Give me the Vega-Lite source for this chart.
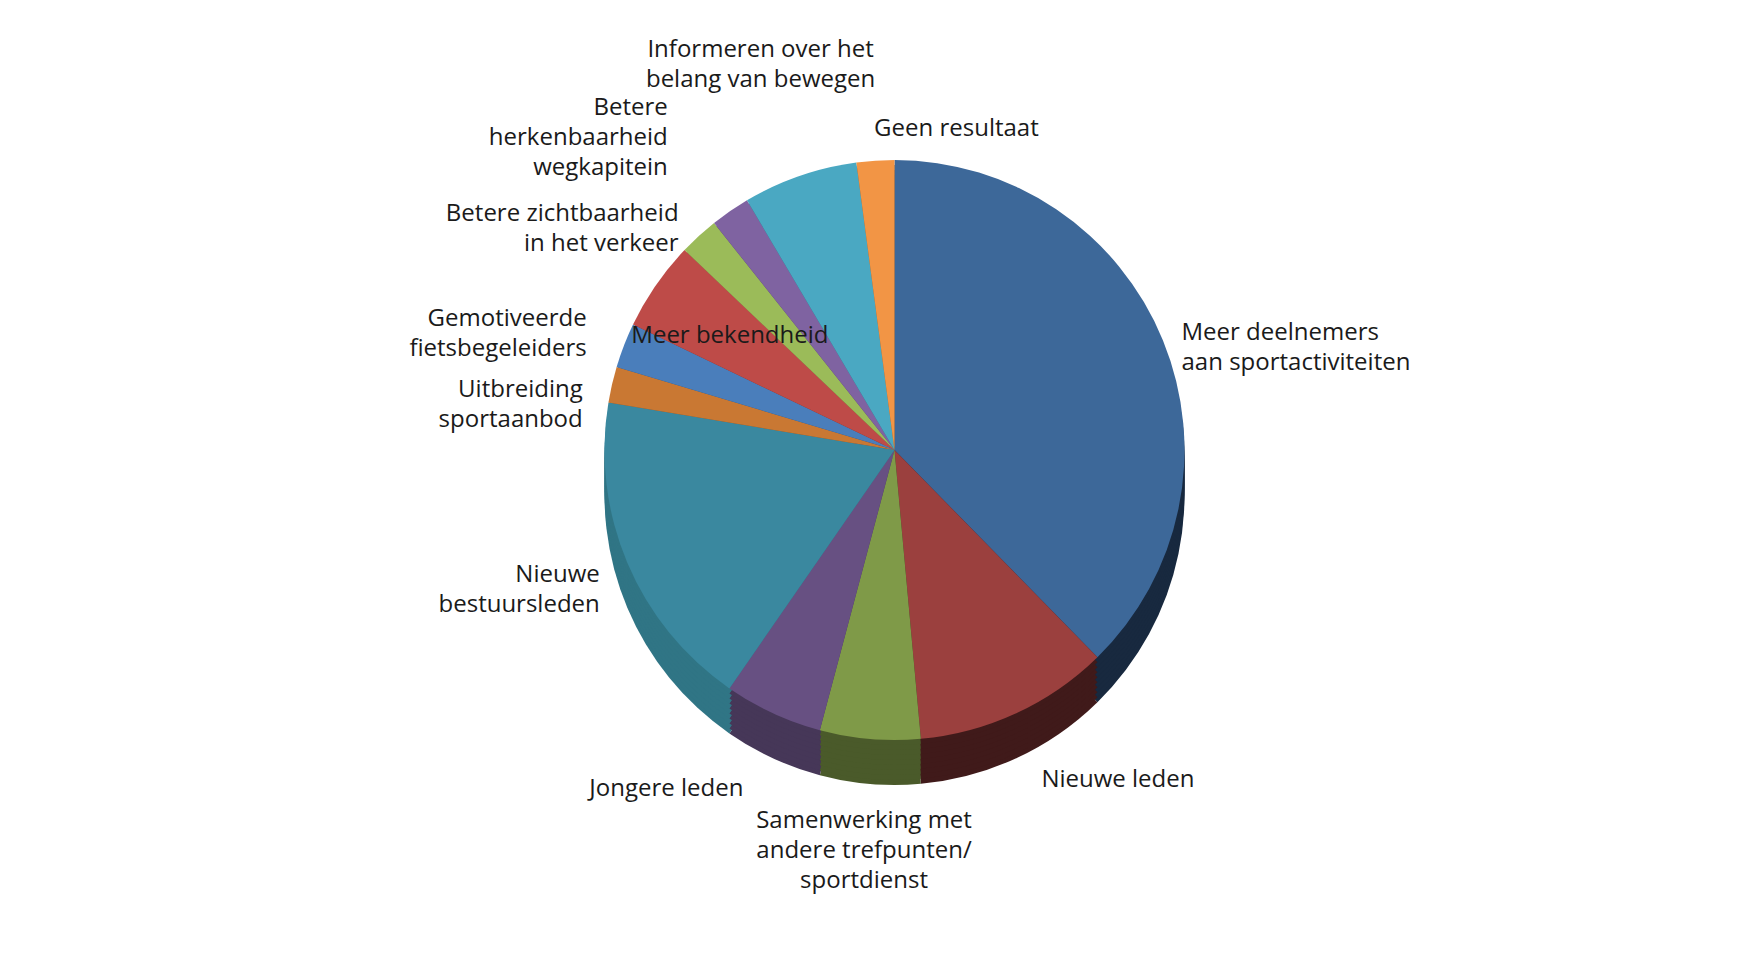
{
  "$schema": "https://vega.github.io/schema/vega-lite/v6.json",
  "width": 1749,
  "height": 970,
  "autosize": {"type": "fit", "contains": "padding"},
  "padding": 0,
  "background": "#ffffff",
  "view": {"stroke": null},
  "data": {
    "values": [
      {"idx": 1, "cat": "Meer deelnemers aan sportactiviteiten", "label": "Meer deelnemers\naan sportactiviteiten", "value": 37.7},
      {"idx": 2, "cat": "Nieuwe leden", "label": "Nieuwe leden", "value": 10.9},
      {"idx": 3, "cat": "Samenwerking met andere trefpunten/ sportdienst", "label": "Samenwerking met\nandere trefpunten/\nsportdienst", "value": 5.6},
      {"idx": 4, "cat": "Jongere leden", "label": "Jongere leden", "value": 5.5},
      {"idx": 5, "cat": "Nieuwe bestuursleden", "label": "Nieuwe\nbestuursleden", "value": 18.0},
      {"idx": 6, "cat": "Uitbreiding sportaanbod", "label": "Uitbreiding\nsportaanbod", "value": 2.0},
      {"idx": 7, "cat": "Gemotiveerde fietsbegeleiders", "label": "Gemotiveerde\nfietsbegeleiders", "value": 2.5},
      {"idx": 8, "cat": "Meer bekendheid", "label": "Meer bekendheid", "value": 5.0},
      {"idx": 9, "cat": "Betere zichtbaarheid in het verkeer", "label": "Betere zichtbaarheid\nin het verkeer", "value": 2.2},
      {"idx": 10, "cat": "Betere herkenbaarheid wegkapitein", "label": "Betere\nherkenbaarheid\nwegkapitein", "value": 2.2},
      {"idx": 11, "cat": "Informeren over het belang van bewegen", "label": "Informeren over het\nbelang van bewegen", "value": 6.4},
      {"idx": 12, "cat": "Geen resultaat", "label": "Geen resultaat", "value": 2.1}
    ]
  },
  "layer": [
    {
      "mark": {"type": "arc", "radius": 290, "xOffset": 20, "yOffset": 10, "stroke": null},
      "encoding": {
        "theta": {"field": "value", "type": "quantitative", "stack": true},
        "order": {"field": "idx", "type": "quantitative"},
        "fill": {"field": "cat", "type": "nominal", "legend": null,
          "scale": {"domain": ["Meer deelnemers aan sportactiviteiten","Nieuwe leden","Samenwerking met andere trefpunten/ sportdienst","Jongere leden","Nieuwe bestuursleden","Uitbreiding sportaanbod","Gemotiveerde fietsbegeleiders","Meer bekendheid","Betere zichtbaarheid in het verkeer","Betere herkenbaarheid wegkapitein","Informeren over het belang van bewegen","Geen resultaat"],
            "range": ["#18293f","#401a1a","#4a5a2a","#463758","#307585","#8a5224","#2f5079","#7a2f2d","#62773a","#503e66","#2f6e7e","#9c5f2c"]}}
      }
    },
    {"mark": {"type": "arc", "radius": 290, "xOffset": 20, "yOffset": 5, "stroke": null},
      "encoding": {"theta": {"field": "value", "type": "quantitative", "stack": true}, "order": {"field": "idx", "type": "quantitative"}, "fill": {"field": "cat", "type": "nominal", "legend": null}}},
    {"mark": {"type": "arc", "radius": 290, "xOffset": 20, "yOffset": 0, "stroke": null},
      "encoding": {"theta": {"field": "value", "type": "quantitative", "stack": true}, "order": {"field": "idx", "type": "quantitative"}, "fill": {"field": "cat", "type": "nominal", "legend": null}}},
    {"mark": {"type": "arc", "radius": 290, "xOffset": 20, "yOffset": -5, "stroke": null},
      "encoding": {"theta": {"field": "value", "type": "quantitative", "stack": true}, "order": {"field": "idx", "type": "quantitative"}, "fill": {"field": "cat", "type": "nominal", "legend": null}}},
    {"mark": {"type": "arc", "radius": 290, "xOffset": 20, "yOffset": -10, "stroke": null},
      "encoding": {"theta": {"field": "value", "type": "quantitative", "stack": true}, "order": {"field": "idx", "type": "quantitative"}, "fill": {"field": "cat", "type": "nominal", "legend": null}}},
    {"mark": {"type": "arc", "radius": 290, "xOffset": 20, "yOffset": -15, "stroke": null},
      "encoding": {"theta": {"field": "value", "type": "quantitative", "stack": true}, "order": {"field": "idx", "type": "quantitative"}, "fill": {"field": "cat", "type": "nominal", "legend": null}}},
    {"mark": {"type": "arc", "radius": 290, "xOffset": 20, "yOffset": -20, "stroke": null},
      "encoding": {"theta": {"field": "value", "type": "quantitative", "stack": true}, "order": {"field": "idx", "type": "quantitative"}, "fill": {"field": "cat", "type": "nominal", "legend": null}}},
    {"mark": {"type": "arc", "radius": 290, "xOffset": 20, "yOffset": -25, "stroke": null},
      "encoding": {"theta": {"field": "value", "type": "quantitative", "stack": true}, "order": {"field": "idx", "type": "quantitative"}, "fill": {"field": "cat", "type": "nominal", "legend": null}}},
    {"mark": {"type": "arc", "radius": 290, "xOffset": 20, "yOffset": -30, "stroke": null},
      "encoding": {"theta": {"field": "value", "type": "quantitative", "stack": true}, "order": {"field": "idx", "type": "quantitative"}, "fill": {"field": "cat", "type": "nominal", "legend": null}}},
    {
      "mark": {"type": "arc", "radius": 290, "xOffset": 20, "yOffset": -35, "stroke": null},
      "encoding": {
        "theta": {"field": "value", "type": "quantitative", "stack": true},
        "order": {"field": "idx", "type": "quantitative"},
        "color": {"field": "cat", "type": "nominal", "legend": null,
          "scale": {"domain": ["Meer deelnemers aan sportactiviteiten","Nieuwe leden","Samenwerking met andere trefpunten/ sportdienst","Jongere leden","Nieuwe bestuursleden","Uitbreiding sportaanbod","Gemotiveerde fietsbegeleiders","Meer bekendheid","Betere zichtbaarheid in het verkeer","Betere herkenbaarheid wegkapitein","Informeren over het belang van bewegen","Geen resultaat"],
            "range": ["#3d6899","#9b403e","#7f9a48","#675082","#3a889f","#c97833","#4a7ebb","#be4b48","#9bbb59","#7f63a1","#4aa8c2","#f29545"]}}
      }
    },
    {
      "mark": {"type": "text", "radius": 310, "align": "left", "baseline": "middle", "xOffset": 20, "yOffset": -35, "font": "Open Sans", "fontSize": 24, "lineBreak": "\n", "lineHeight": 30, "color": "#1a1a1a"},
      "encoding": {
        "theta": {"field": "value", "type": "quantitative", "stack": true},
        "order": {"field": "idx", "type": "quantitative"},
        "text": {"condition": {"test": "datum.idx == 1", "field": "label", "type": "nominal"}, "value": ""}
      }
    },
    {
      "mark": {"type": "text", "radius": 350, "align": "left", "baseline": "top", "xOffset": 20, "yOffset": -35, "font": "Open Sans", "fontSize": 24, "lineBreak": "\n", "lineHeight": 30, "color": "#1a1a1a"},
      "encoding": {
        "theta": {"field": "value", "type": "quantitative", "stack": true},
        "order": {"field": "idx", "type": "quantitative"},
        "text": {"condition": {"test": "datum.idx == 2", "field": "label", "type": "nominal"}, "value": ""}
      }
    },
    {
      "mark": {"type": "text", "radius": 360, "align": "center", "baseline": "top", "xOffset": 20, "yOffset": -35, "font": "Open Sans", "fontSize": 24, "lineBreak": "\n", "lineHeight": 30, "color": "#1a1a1a"},
      "encoding": {
        "theta": {"field": "value", "type": "quantitative", "stack": true},
        "order": {"field": "idx", "type": "quantitative"},
        "text": {"condition": {"test": "datum.idx == 3", "field": "label", "type": "nominal"}, "value": ""}
      }
    },
    {
      "mark": {"type": "text", "radius": 360, "align": "right", "baseline": "top", "xOffset": 20, "yOffset": -35, "font": "Open Sans", "fontSize": 24, "lineBreak": "\n", "lineHeight": 30, "color": "#1a1a1a"},
      "encoding": {
        "theta": {"field": "value", "type": "quantitative", "stack": true},
        "order": {"field": "idx", "type": "quantitative"},
        "text": {"condition": {"test": "datum.idx == 4", "field": "label", "type": "nominal"}, "value": ""}
      }
    },
    {
      "mark": {"type": "text", "radius": 320, "align": "right", "baseline": "middle", "xOffset": 20, "yOffset": -35, "font": "Open Sans", "fontSize": 24, "lineBreak": "\n", "lineHeight": 30, "color": "#1a1a1a"},
      "encoding": {
        "theta": {"field": "value", "type": "quantitative", "stack": true},
        "order": {"field": "idx", "type": "quantitative"},
        "text": {"condition": {"test": "datum.idx == 5 || datum.idx == 9", "field": "label", "type": "nominal"}, "value": ""}
      }
    },
    {
      "mark": {"type": "text", "radius": 330, "align": "right", "baseline": "bottom", "xOffset": 20, "yOffset": -35, "font": "Open Sans", "fontSize": 24, "lineBreak": "\n", "lineHeight": 30, "color": "#1a1a1a"},
      "encoding": {
        "theta": {"field": "value", "type": "quantitative", "stack": true},
        "order": {"field": "idx", "type": "quantitative"},
        "text": {"condition": {"test": "datum.idx == 7", "field": "label", "type": "nominal"}, "value": ""}
      }
    },
    {
      "mark": {"type": "text", "radius": 320, "align": "right", "baseline": "top", "xOffset": 20, "yOffset": -35, "font": "Open Sans", "fontSize": 24, "lineBreak": "\n", "lineHeight": 30, "color": "#1a1a1a"},
      "encoding": {
        "theta": {"field": "value", "type": "quantitative", "stack": true},
        "order": {"field": "idx", "type": "quantitative"},
        "text": {"condition": {"test": "datum.idx == 6", "field": "label", "type": "nominal"}, "value": ""}
      }
    },
    {
      "mark": {"type": "text", "radius": 200, "align": "center", "baseline": "middle", "xOffset": 20, "yOffset": -35, "font": "Open Sans", "fontSize": 24, "lineBreak": "\n", "lineHeight": 30, "color": "#1a1a1a"},
      "encoding": {
        "theta": {"field": "value", "type": "quantitative", "stack": true},
        "order": {"field": "idx", "type": "quantitative"},
        "text": {"condition": {"test": "datum.idx == 8", "field": "label", "type": "nominal"}, "value": ""}
      }
    },
    {
      "mark": {"type": "text", "radius": 400, "align": "right", "baseline": "bottom", "xOffset": 20, "yOffset": -35, "font": "Open Sans", "fontSize": 24, "lineBreak": "\n", "lineHeight": 30, "color": "#1a1a1a"},
      "encoding": {
        "theta": {"field": "value", "type": "quantitative", "stack": true},
        "order": {"field": "idx", "type": "quantitative"},
        "text": {"condition": {"test": "datum.idx == 10", "field": "label", "type": "nominal"}, "value": ""}
      }
    },
    {
      "mark": {"type": "text", "radius": 410, "align": "center", "baseline": "bottom", "xOffset": 20, "yOffset": -35, "font": "Open Sans", "fontSize": 24, "lineBreak": "\n", "lineHeight": 30, "color": "#1a1a1a"},
      "encoding": {
        "theta": {"field": "value", "type": "quantitative", "stack": true},
        "order": {"field": "idx", "type": "quantitative"},
        "text": {"condition": {"test": "datum.idx == 11", "field": "label", "type": "nominal"}, "value": ""}
      }
    },
    {
      "mark": {"type": "text", "radius": 310, "align": "left", "baseline": "bottom", "xOffset": 20, "yOffset": -35, "font": "Open Sans", "fontSize": 24, "lineBreak": "\n", "lineHeight": 30, "color": "#1a1a1a"},
      "encoding": {
        "theta": {"field": "value", "type": "quantitative", "stack": true},
        "order": {"field": "idx", "type": "quantitative"},
        "text": {"condition": {"test": "datum.idx == 12", "field": "label", "type": "nominal"}, "value": ""}
      }
    }
  ]
}
